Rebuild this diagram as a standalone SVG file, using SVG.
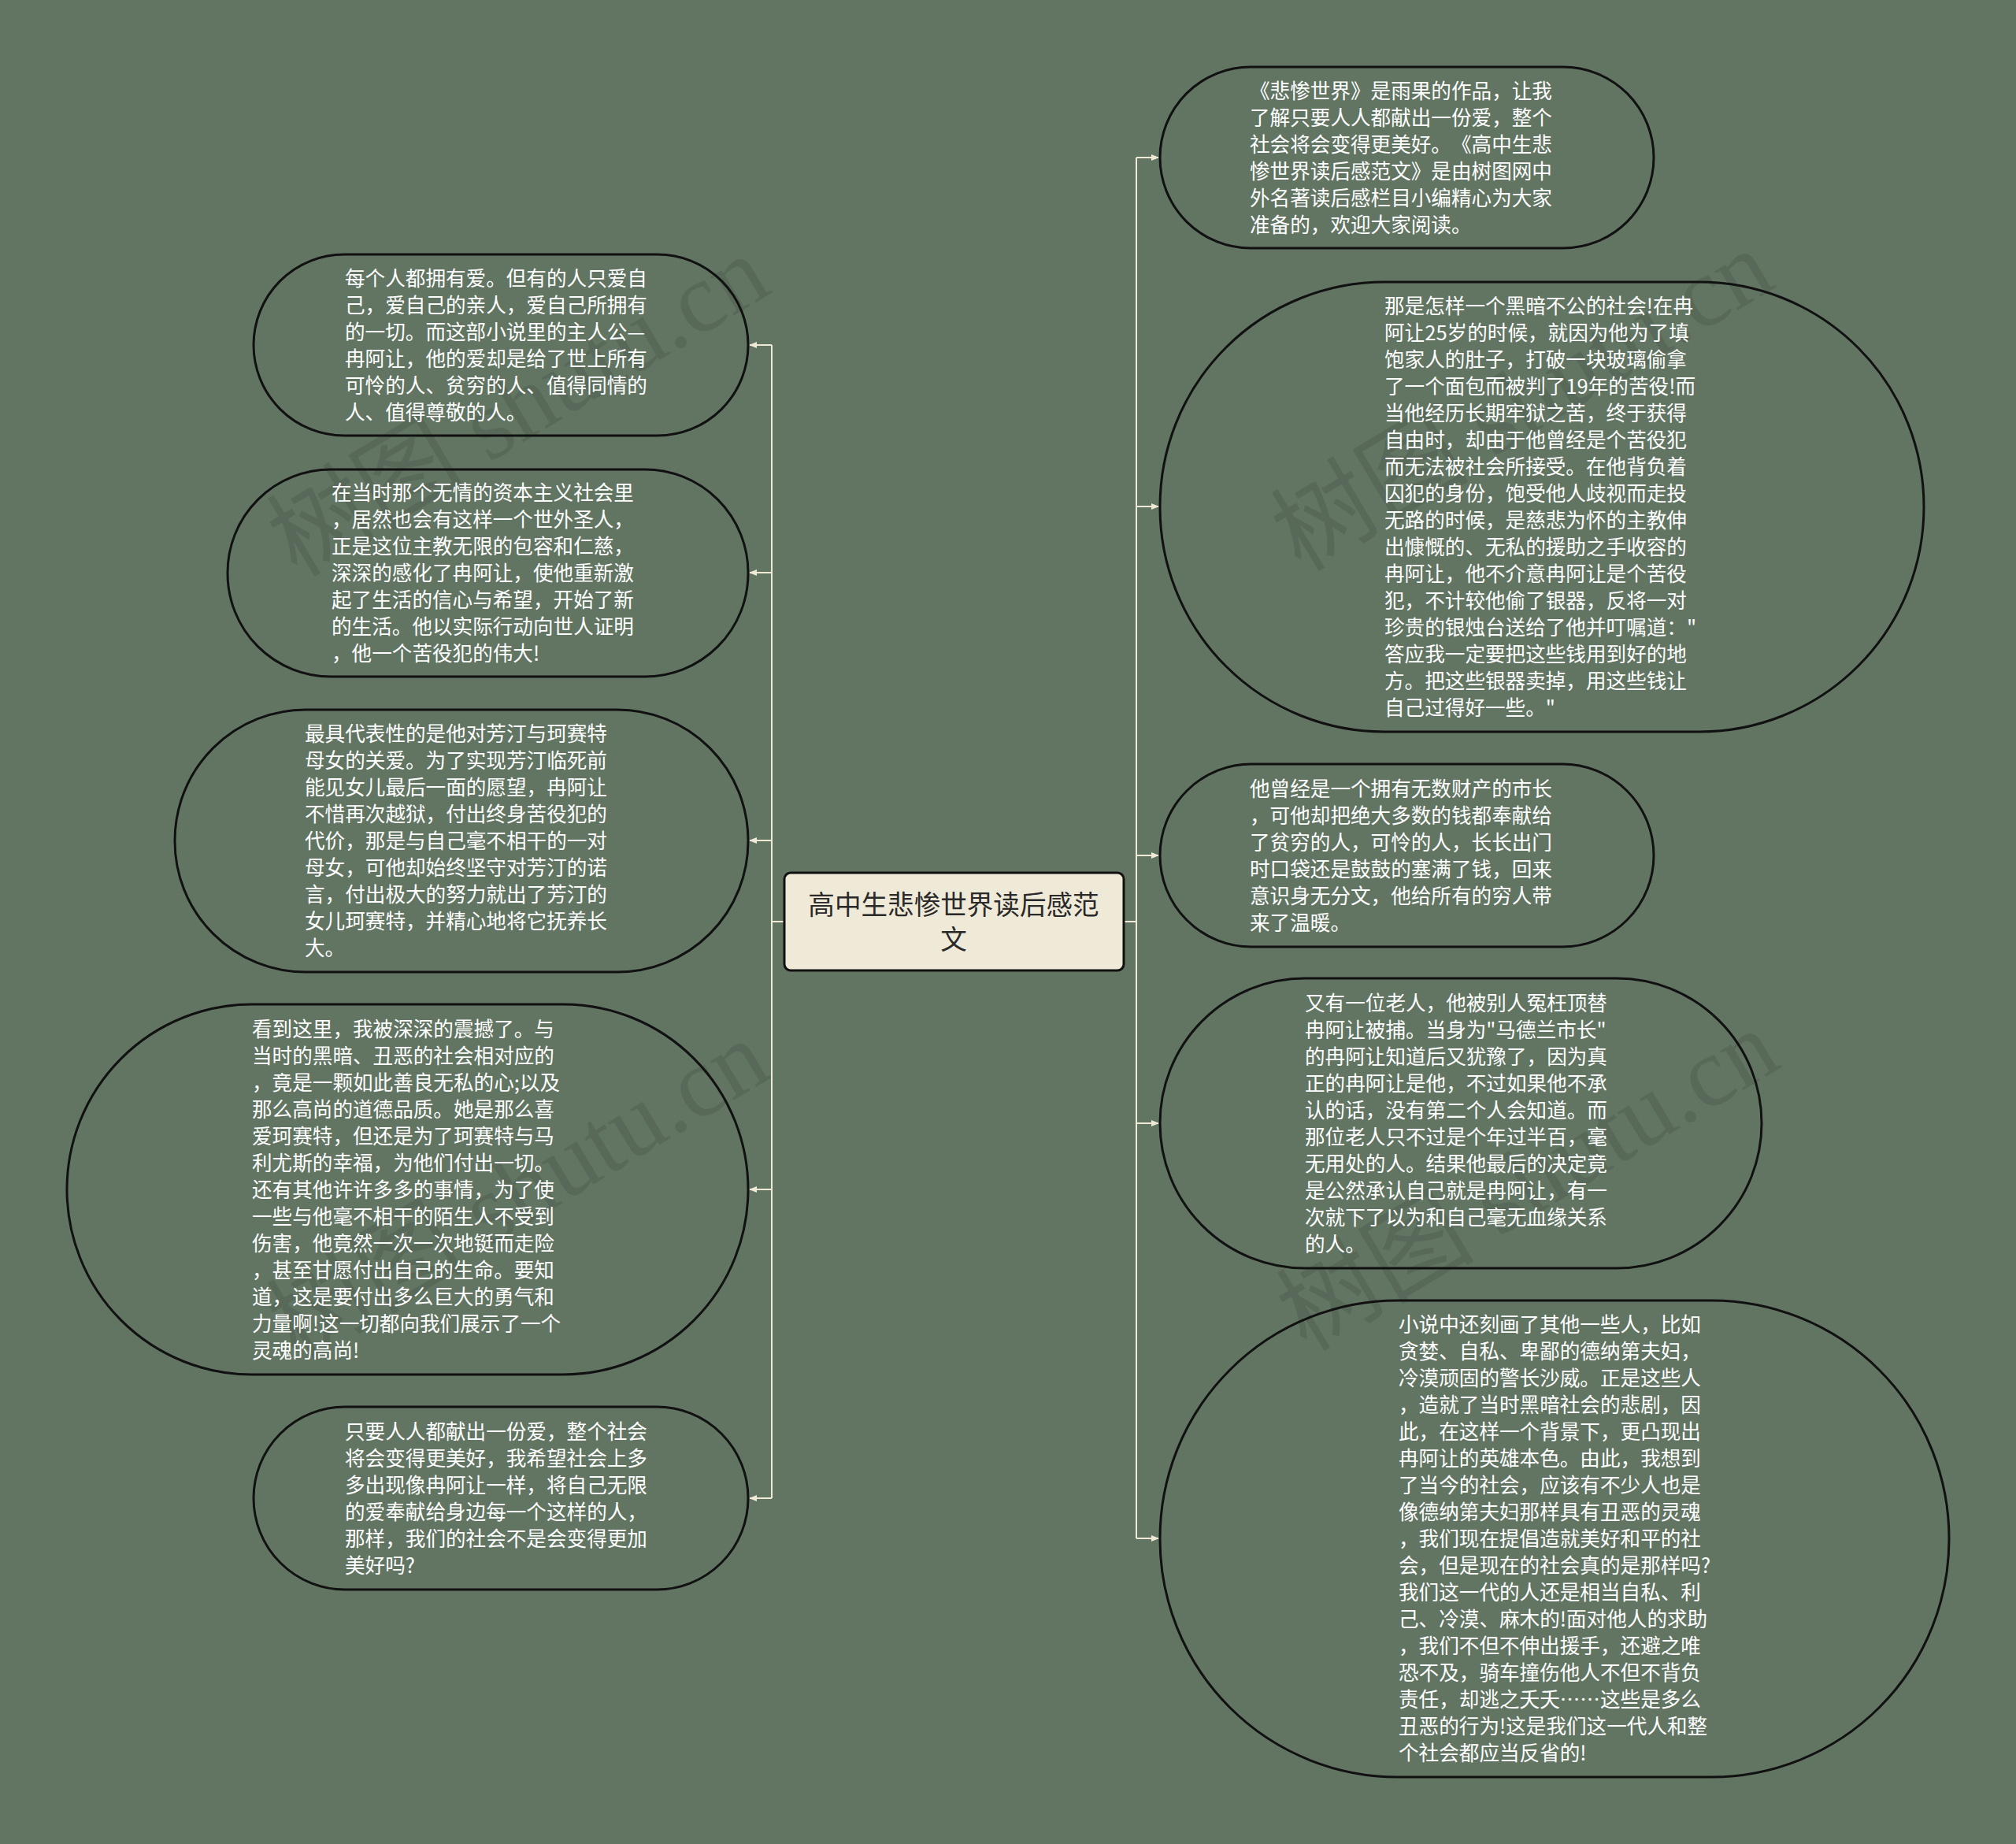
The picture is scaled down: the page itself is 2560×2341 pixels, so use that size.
<svg xmlns="http://www.w3.org/2000/svg" width="2560" height="2341" viewBox="0 0 2560 2341">
<defs>
<style>
.bg{fill:#627563}
.node{fill:none;stroke:#111;stroke-width:3}
.t{font-family:"Noto Sans CJK SC","Noto Sans",sans-serif;font-size:25.6px;fill:#ffffff;text-spacing-trim:space-all}
.ct{font-family:"Noto Sans CJK SC","Noto Sans",sans-serif;font-size:33.6px;fill:#2a2a2a;text-anchor:middle}
.c{fill:none;stroke:#efe9d6;stroke-width:2}
.wm{font-family:"Liberation Serif","Noto Sans CJK SC",serif;font-size:126px;fill:#3c463c;opacity:0.24}
</style>
<marker id="ah" markerWidth="10" markerHeight="10" refX="9" refY="5" orient="auto" markerUnits="userSpaceOnUse">
<path d="M0,1 L10,5 L0,9 Z" fill="#efe9d6"/>
</marker>
</defs>
<rect class="bg" x="0" y="0" width="2560" height="2341"/>

<g id="watermarks">
<text class="wm" transform="translate(680,552) rotate(-31)" text-anchor="middle">树图 shutu.cn</text>
<text class="wm" transform="translate(1955,545) rotate(-31)" text-anchor="middle">树图 shutu.cn</text>
<text class="wm" transform="translate(680,1548) rotate(-31)" text-anchor="middle">树图 shutu.cn</text>
<text class="wm" transform="translate(1962,1535) rotate(-31)" text-anchor="middle">树图 shutu.cn</text>
</g>

<g id="connectors">
<path class="c" d="M996,1170 H980"/>
<path class="c" d="M980,438 V1902"/>
<path class="c" d="M980,438 H952" marker-end="url(#ah)"/>
<path class="c" d="M980,727 H952" marker-end="url(#ah)"/>
<path class="c" d="M980,1067 H952" marker-end="url(#ah)"/>
<path class="c" d="M980,1510 H952" marker-end="url(#ah)"/>
<path class="c" d="M980,1902 H952" marker-end="url(#ah)"/>
<path class="c" d="M1427,1170 H1443"/>
<path class="c" d="M1443,200 V1953"/>
<path class="c" d="M1443,200 H1471" marker-end="url(#ah)"/>
<path class="c" d="M1443,643 H1471" marker-end="url(#ah)"/>
<path class="c" d="M1443,1086 H1471" marker-end="url(#ah)"/>
<path class="c" d="M1443,1426 H1471" marker-end="url(#ah)"/>
<path class="c" d="M1443,1953 H1471" marker-end="url(#ah)"/>
</g>

<g id="center">
<rect x="996" y="1108" width="431" height="124" rx="8" fill="#efe9d8" stroke="#111" stroke-width="3"/>
<text class="ct"><tspan x="1211" y="1161">高中生悲惨世界读后感范</tspan><tspan x="1211" y="1205">文</tspan></text>
</g>

<g id="r1">
<rect class="node" x="1473" y="85" width="627" height="230" rx="115"/>
<text class="t">
<tspan x="1587" y="125">《悲惨世界》是雨果的作品，让我</tspan>
<tspan x="1587" y="159">了解只要人人都献出一份爱，整个</tspan>
<tspan x="1587" y="193">社会将会变得更美好。《高中生悲</tspan>
<tspan x="1587" y="227">惨世界读后感范文》是由树图网中</tspan>
<tspan x="1587" y="261">外名著读后感栏目小编精心为大家</tspan>
<tspan x="1587" y="295">准备的，欢迎大家阅读。</tspan>
</text>
</g>

<g id="r2">
<rect class="node" x="1473" y="358" width="970" height="571" rx="285"/>
<text class="t">
<tspan x="1758" y="398">那是怎样一个黑暗不公的社会!在冉</tspan>
<tspan x="1758" y="432">阿让25岁的时候，就因为他为了填</tspan>
<tspan x="1758" y="466">饱家人的肚子，打破一块玻璃偷拿</tspan>
<tspan x="1758" y="500">了一个面包而被判了19年的苦役!而</tspan>
<tspan x="1758" y="534">当他经历长期牢狱之苦，终于获得</tspan>
<tspan x="1758" y="568">自由时，却由于他曾经是个苦役犯</tspan>
<tspan x="1758" y="602">而无法被社会所接受。在他背负着</tspan>
<tspan x="1758" y="636">囚犯的身份，饱受他人歧视而走投</tspan>
<tspan x="1758" y="670">无路的时候，是慈悲为怀的主教伸</tspan>
<tspan x="1758" y="704">出慷慨的、无私的援助之手收容的</tspan>
<tspan x="1758" y="738">冉阿让，他不介意冉阿让是个苦役</tspan>
<tspan x="1758" y="772">犯，不计较他偷了银器，反将一对</tspan>
<tspan x="1758" y="806">珍贵的银烛台送给了他并叮嘱道："</tspan>
<tspan x="1758" y="840">答应我一定要把这些钱用到好的地</tspan>
<tspan x="1758" y="874">方。把这些银器卖掉，用这些钱让</tspan>
<tspan x="1758" y="908">自己过得好一些。"</tspan>
</text>
</g>

<g id="r3">
<rect class="node" x="1473" y="970" width="627" height="232" rx="116"/>
<text class="t">
<tspan x="1587" y="1011">他曾经是一个拥有无数财产的市长</tspan>
<tspan x="1587" y="1045">，可他却把绝大多数的钱都奉献给</tspan>
<tspan x="1587" y="1079">了贫穷的人，可怜的人，长长出门</tspan>
<tspan x="1587" y="1113">时口袋还是鼓鼓的塞满了钱，回来</tspan>
<tspan x="1587" y="1147">意识身无分文，他给所有的穷人带</tspan>
<tspan x="1587" y="1181">来了温暖。</tspan>
</text>
</g>

<g id="r4">
<rect class="node" x="1473" y="1242" width="764" height="368" rx="184"/>
<text class="t">
<tspan x="1657" y="1283">又有一位老人，他被别人冤枉顶替</tspan>
<tspan x="1657" y="1317">冉阿让被捕。当身为"马德兰市长"</tspan>
<tspan x="1657" y="1351">的冉阿让知道后又犹豫了，因为真</tspan>
<tspan x="1657" y="1385">正的冉阿让是他，不过如果他不承</tspan>
<tspan x="1657" y="1419">认的话，没有第二个人会知道。而</tspan>
<tspan x="1657" y="1453">那位老人只不过是个年过半百，毫</tspan>
<tspan x="1657" y="1487">无用处的人。结果他最后的决定竟</tspan>
<tspan x="1657" y="1521">是公然承认自己就是冉阿让，有一</tspan>
<tspan x="1657" y="1555">次就下了以为和自己毫无血缘关系</tspan>
<tspan x="1657" y="1589">的人。</tspan>
</text>
</g>

<g id="r5">
<rect class="node" x="1473" y="1651" width="1002" height="605" rx="302"/>
<text class="t">
<tspan x="1776" y="1691">小说中还刻画了其他一些人，比如</tspan>
<tspan x="1776" y="1725">贪婪、自私、卑鄙的德纳第夫妇，</tspan>
<tspan x="1776" y="1759">冷漠顽固的警长沙威。正是这些人</tspan>
<tspan x="1776" y="1793">，造就了当时黑暗社会的悲剧，因</tspan>
<tspan x="1776" y="1827">此，在这样一个背景下，更凸现出</tspan>
<tspan x="1776" y="1861">冉阿让的英雄本色。由此，我想到</tspan>
<tspan x="1776" y="1895">了当今的社会，应该有不少人也是</tspan>
<tspan x="1776" y="1929">像德纳第夫妇那样具有丑恶的灵魂</tspan>
<tspan x="1776" y="1963">，我们现在提倡造就美好和平的社</tspan>
<tspan x="1776" y="1997">会，但是现在的社会真的是那样吗?</tspan>
<tspan x="1776" y="2031">我们这一代的人还是相当自私、利</tspan>
<tspan x="1776" y="2065">己、冷漠、麻木的!面对他人的求助</tspan>
<tspan x="1776" y="2099">，我们不但不伸出援手，还避之唯</tspan>
<tspan x="1776" y="2133">恐不及，骑车撞伤他人不但不背负</tspan>
<tspan x="1776" y="2167">责任，却逃之夭夭……这些是多么</tspan>
<tspan x="1776" y="2201">丑恶的行为!这是我们这一代人和整</tspan>
<tspan x="1776" y="2235">个社会都应当反省的!</tspan>
</text>
</g>

<g id="l1">
<rect class="node" x="322" y="323" width="628" height="230" rx="115"/>
<text class="t">
<tspan x="438" y="363">每个人都拥有爱。但有的人只爱自</tspan>
<tspan x="438" y="397">己，爱自己的亲人，爱自己所拥有</tspan>
<tspan x="438" y="431">的一切。而这部小说里的主人公—</tspan>
<tspan x="438" y="465">冉阿让，他的爱却是给了世上所有</tspan>
<tspan x="438" y="499">可怜的人、贫穷的人、值得同情的</tspan>
<tspan x="438" y="533">人、值得尊敬的人。</tspan>
</text>
</g>

<g id="l2">
<rect class="node" x="289" y="596" width="661" height="263" rx="131"/>
<text class="t">
<tspan x="421" y="635">在当时那个无情的资本主义社会里</tspan>
<tspan x="421" y="669">，居然也会有这样一个世外圣人，</tspan>
<tspan x="421" y="703">正是这位主教无限的包容和仁慈，</tspan>
<tspan x="421" y="737">深深的感化了冉阿让，使他重新激</tspan>
<tspan x="421" y="771">起了生活的信心与希望，开始了新</tspan>
<tspan x="421" y="805">的生活。他以实际行动向世人证明</tspan>
<tspan x="421" y="839">，他一个苦役犯的伟大!</tspan>
</text>
</g>

<g id="l3">
<rect class="node" x="222" y="901" width="728" height="333" rx="166"/>
<text class="t">
<tspan x="387" y="941">最具代表性的是他对芳汀与珂赛特</tspan>
<tspan x="387" y="975">母女的关爱。为了实现芳汀临死前</tspan>
<tspan x="387" y="1009">能见女儿最后一面的愿望，冉阿让</tspan>
<tspan x="387" y="1043">不惜再次越狱，付出终身苦役犯的</tspan>
<tspan x="387" y="1077">代价，那是与自己毫不相干的一对</tspan>
<tspan x="387" y="1111">母女，可他却始终坚守对芳汀的诺</tspan>
<tspan x="387" y="1145">言，付出极大的努力就出了芳汀的</tspan>
<tspan x="387" y="1179">女儿珂赛特，并精心地将它抚养长</tspan>
<tspan x="387" y="1213">大。</tspan>
</text>
</g>

<g id="l4">
<rect class="node" x="85" y="1275" width="865" height="470" rx="235"/>
<text class="t">
<tspan x="320" y="1316">看到这里，我被深深的震撼了。与</tspan>
<tspan x="320" y="1350">当时的黑暗、丑恶的社会相对应的</tspan>
<tspan x="320" y="1384">，竟是一颗如此善良无私的心;以及</tspan>
<tspan x="320" y="1418">那么高尚的道德品质。她是那么喜</tspan>
<tspan x="320" y="1452">爱珂赛特，但还是为了珂赛特与马</tspan>
<tspan x="320" y="1486">利尤斯的幸福，为他们付出一切。</tspan>
<tspan x="320" y="1520">还有其他许许多多的事情，为了使</tspan>
<tspan x="320" y="1554">一些与他毫不相干的陌生人不受到</tspan>
<tspan x="320" y="1588">伤害，他竟然一次一次地铤而走险</tspan>
<tspan x="320" y="1622">，甚至甘愿付出自己的生命。要知</tspan>
<tspan x="320" y="1656">道，这是要付出多么巨大的勇气和</tspan>
<tspan x="320" y="1690">力量啊!这一切都向我们展示了一个</tspan>
<tspan x="320" y="1724">灵魂的高尚!</tspan>
</text>
</g>

<g id="l5">
<rect class="node" x="322" y="1786" width="628" height="232" rx="116"/>
<text class="t">
<tspan x="438" y="1827">只要人人都献出一份爱，整个社会</tspan>
<tspan x="438" y="1861">将会变得更美好，我希望社会上多</tspan>
<tspan x="438" y="1895">多出现像冉阿让一样，将自己无限</tspan>
<tspan x="438" y="1929">的爱奉献给身边每一个这样的人，</tspan>
<tspan x="438" y="1963">那样，我们的社会不是会变得更加</tspan>
<tspan x="438" y="1997">美好吗?</tspan>
</text>
</g>
</svg>
